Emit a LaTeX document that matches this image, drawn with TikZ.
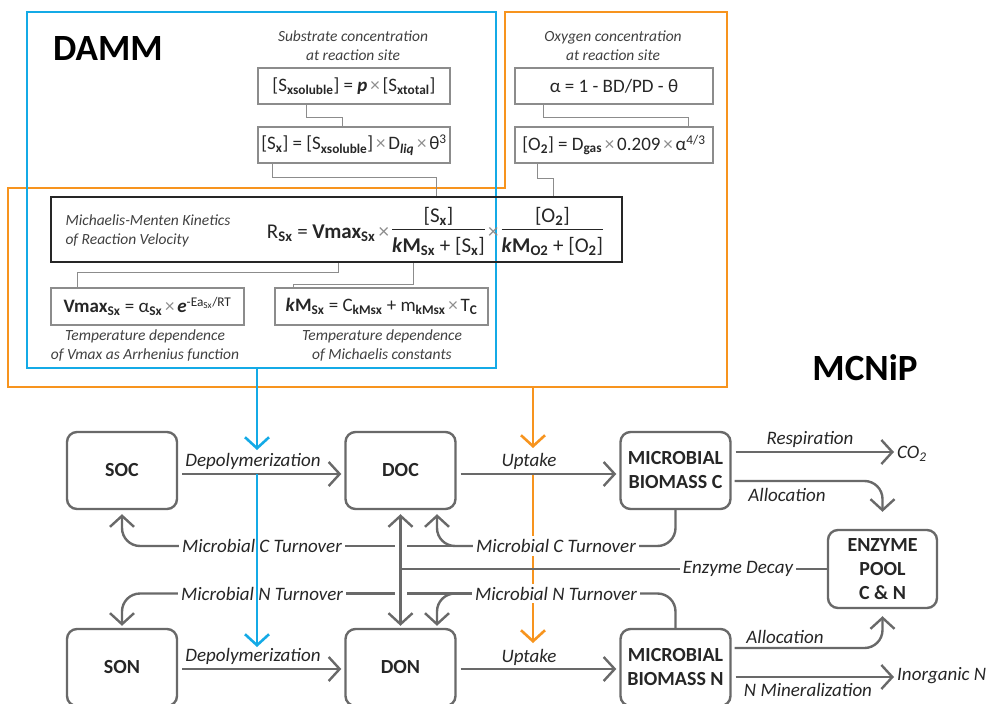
\documentclass[tikz,border=0pt]{standalone}
\usepackage{fontspec}
\setmainfont{Carlito}
\usetikzlibrary{arrows.meta,calc}
\definecolor{dblue}{RGB}{20,170,230}
\definecolor{dorange}{RGB}{247,148,30}
\definecolor{lgrey}{RGB}{105,105,105}
\definecolor{fgrey}{RGB}{140,140,140}
\setlength{\arrayrulewidth}{1.1pt}
\newcommand{\sbb}[1]{\textsubscript{\textbf{#1}}}
\newcommand{\tms}{\hspace{0.15em}{\color{fgrey}×}\hspace{0.15em}}
\newcommand{\frc}[2]{\begin{tabular}{@{}c@{}}#1\\\hline\rule{0pt}{1.05em}#2\end{tabular}}
\begin{document}
\begin{tikzpicture}[x=1pt,y=-1pt,
 flowbox/.style={draw=lgrey, line width=2.4pt, rounded corners=10pt, minimum width=110pt, minimum height=77pt, font=\fontsize{20}{24}\selectfont\bfseries, text=black!85, align=center, inner sep=0pt},
 fbox/.style={draw=fgrey, line width=1.1pt, minimum height=36pt, inner sep=0pt, font=\fontsize{19}{22}\selectfont, text=black!85},
 capt/.style={font=\fontsize{15.5}{19}\selectfont\itshape, text=black!75, align=center},
 lbl/.style={font=\fontsize{19}{22}\selectfont\itshape, text=black!85, inner sep=1pt},
 lblw/.style={lbl, fill=white, inner sep=3pt},
 flow/.style={draw=lgrey, line width=2.4pt, rounded corners=18pt},
 arr/.style={flow, -{Straight Barb[length=11pt,width=24pt]}},
 harr/.style={arr, shorten <=4pt, shorten >=3pt},
 conn/.style={draw=fgrey, line width=1pt},
 barr/.style={draw=dblue, line width=2.6pt, -{Straight Barb[length=11pt,width=24pt]}},
 oarr/.style={draw=dorange, line width=2.6pt, -{Straight Barb[length=11pt,width=24pt]}},
 ttl/.style={font=\fontsize{37}{40}\selectfont\bfseries, text=black}
]
\useasboundingbox (0,0) rectangle (991,704);

% outlines
\draw[dorange, line width=2.6pt] (505,12) -- (727,12) -- (727,387) -- (8,387) -- (8,188) -- (505,188) -- cycle;
\draw[dblue, line width=2.6pt] (27,12) rectangle (496,368);

% titles
\node[ttl] (damm) at (108,49) {DAMM};
\node[ttl] (mcnip) at (865,368) {MCNiP};

% captions
\node[capt] (capS) at (353,45.5) {Substrate concentration\\at reaction site};
\node[capt] (capO) at (613,45.5) {Oxygen concentration\\at reaction site};
\node[capt] (capV) at (145,346) {Temperature dependence\\of Vmax as Arrhenius function};
\node[capt] (capK) at (382,346) {Temperature dependence\\of Michaelis constants};

% formula boxes
\node[fbox, minimum width=192pt] (f1) at (354,86) {[S\sbb{xsoluble}] = \textbf{\textit{p}}\tms[S\sbb{xtotal}]};
\node[fbox, minimum width=192pt] (f2) at (354,145) {[S\sbb{x}] = [S\sbb{xsoluble}]\tms D\textsubscript{\textbf{\textit{liq}}}\tms θ\textsuperscript{3}};
\node[fbox, minimum width=198pt] (fa) at (614,86) {α = 1 - BD/PD - θ};
\node[fbox, minimum width=198pt] (fo) at (614,145) {[O\sbb{2}] = D\sbb{gas}\tms 0.209\tms α\textsuperscript{4/3}};
\node[draw=black!85, line width=2.8pt, minimum width=571pt, minimum height=65pt, inner sep=0pt] (mm) at (336.5,229.5) {};
\node[capt, anchor=west, align=left] (capMM) at (62,231) {Michaelis-Menten Kinetics\\of Reaction Velocity};
\node[font=\fontsize{21}{22}\selectfont, text=black!85, inner sep=0pt] (mmf) at (435,233) {R\sbb{Sx} = \textbf{Vmax}\sbb{Sx}\tms\frc{[S\sbb{x}]}{\textbf{\textit{k}M}\sbb{Sx} + [S\sbb{x}]}\tms\frc{[O\sbb{2}]}{\textbf{\textit{k}M}\sbb{O2} + [O\sbb{2}]}};
\node[fbox, minimum width=193pt, minimum height=37pt] (fv) at (147.5,306.5) {\textbf{Vmax}\sbb{Sx} = α\sbb{Sx}\tms\textbf{\textit{e}}\textsuperscript{-Ea\textsubscript{Sx}/RT}};
\node[fbox, minimum width=213pt, minimum height=37pt] (fk) at (381.5,306.5) {\textbf{\textit{k}M}\sbb{Sx} = C\sbb{kMsx} + m\sbb{kMsx}\tms T\sbb{C}};

% DAMM connectors
\draw[conn] ([xshift=-48pt]f1.south) -- ++(0,13) -| ([xshift=-12pt]f2.north);
\draw[conn] ([xshift=-82pt]f2.south) -- ++(0,14) -| ([xshift=99.5pt]mm.north);
\draw[conn] ([xshift=-71pt]fa.south) -- ++(0,13) -| ([xshift=74pt]fo.north);
\draw[conn] ([xshift=-77pt]fo.south) -- ++(0,15) -| ([xshift=216.5pt]mm.north);
\draw[conn] ([xshift=1.5pt]mm.south) -- ++(0,9) -| ([xshift=-70.5pt]fv.north);
\draw[conn] ([xshift=76.5pt]mm.south) -- ++(0,21) -| ([xshift=-88.5pt]fk.north);

% orange arrows
\coordinate (oA) at (533,387);
\coordinate (oT1) at (533,448);
\coordinate (oB) at (533,474);
\coordinate (oT2) at (533,643);
\draw[oarr] (oA) -- (oT1);
\draw[oarr] (oB) -- (oT2);

% flow boxes
\node[flowbox] (soc) at (122,470.5) {SOC};
\node[flowbox] (doc) at (400.5,470.5) {DOC};
\node[flowbox] (mbc) at (675.5,470.5) {MICROBIAL\\BIOMASS C};
\node[flowbox] (son) at (122,667.5) {SON};
\node[flowbox] (don) at (400.5,667.5) {DON};
\node[flowbox] (mbn) at (675.5,667.5) {MICROBIAL\\BIOMASS N};
\node[flowbox, minimum width=109pt, minimum height=78pt] (enz) at (882.5,569) {ENZYME\\POOL\\C \& N};

% labels
\node[lbl] (dep1) at (253,461) {Depolymerization};
\node[lbl] (dep2) at (253,656) {Depolymerization};
\node[lbl] (up1) at (529,461) {Uptake};
\node[lbl] (up2) at (529,657) {Uptake};
\node[lbl] (resp) at (810,439) {Respiration};
\node[lbl] (all1) at (787,495) {Allocation};
\node[lbl] (all2) at (785,637) {Allocation};
\node[lbl] (nmin) at (808,690) {N Mineralization};
\node[lbl, anchor=west, inner sep=0pt] (co2) at (897,454) {CO\textsubscript{2}};
\node[lbl, anchor=west, inner sep=0pt] (inorg) at (897,676) {Inorganic N};
\node[lblw] (lblCL) at (262,546) {Microbial C Turnover};
\node[lblw] (lblCR) at (556,546) {Microbial C Turnover};
\node[lblw] (lblNL) at (262,593.5) {Microbial N Turnover};
\node[lblw] (lblNR) at (556,593.5) {Microbial N Turnover};
\node[lblw] (lblED) at (738,569) {Enzyme Decay};

% main flows
\draw[harr] ([yshift=-3.5pt]soc.east) -- ([yshift=-3.5pt]doc.west);
\draw[harr] ([yshift=-3.5pt]doc.east) -- ([yshift=-3.5pt]mbc.west);
\draw[harr] ([yshift=-1.5pt]son.east) -- ([yshift=-1.5pt]don.west);
\draw[harr] ([yshift=-1.5pt]don.east) -- ([yshift=-1.5pt]mbn.west);
\draw[harr] ([yshift=18.5pt]mbc.east) -- ([yshift=18.5pt]mbc.east -| co2.west);
\draw[harr] ([yshift=-9.5pt]mbn.east) -- ([yshift=-9.5pt]mbn.east -| inorg.west);
\draw[arr, shorten <=3pt] ([yshift=-10.5pt]mbc.east) -| ([yshift=17pt]enz.north);
\draw[arr, shorten <=3pt] ([yshift=19.5pt]mbn.east) -| ([yshift=-7pt]enz.south);

% turnover
\draw[flow] (mbc.south) |- (lblCR.east);
\draw[flow] (lblCR.west) -- (lblCL.east);
\draw[arr] (lblCR.west) -| ([xshift=36.5pt,yshift=-4pt]doc.south);
\draw[arr] (lblCL.west) -| ([yshift=-4pt]soc.south);
\draw[flow] (mbn.north) |- (lblNR.east);
\draw[flow] (lblNR.west) -- (lblNL.east);
\draw[arr] (lblNR.west) -| ([xshift=36.5pt,yshift=2pt]don.north);
\draw[arr] (lblNL.west) -| ([yshift=2pt]son.north);

% crossing gaps and vertical double arrow
\coordinate (xC) at (doc.south |- lblCL.east);
\coordinate (xN) at (doc.south |- lblNL.east);
\draw[white, line width=4pt] ($(xC)+(-6,0)$) -- ($(xC)+(6,0)$);
\draw[white, line width=4pt] ($(xN)+(-6,0)$) -- ($(xN)+(6,0)$);
\draw[draw=lgrey, line width=2.4pt, {Straight Barb[length=11pt,width=24pt]}-{Straight Barb[length=11pt,width=24pt]}] ([yshift=-4pt]doc.south) -- ([yshift=2pt]don.north);

% enzyme decay
\draw[flow] (enz.west) -- (lblED.east);
\draw[flow] (lblED.west) -- (doc.south |- lblED.west);

% blue arrows
\coordinate (bA) at (257,368);
\coordinate (bT1) at (257,450);
\coordinate (bB) at (257,474);
\coordinate (bT2) at (257,647);
\draw[barr] (bA) -- (bT1);
\draw[barr] (bB) -- (bT2);
\end{tikzpicture}
\end{document}
